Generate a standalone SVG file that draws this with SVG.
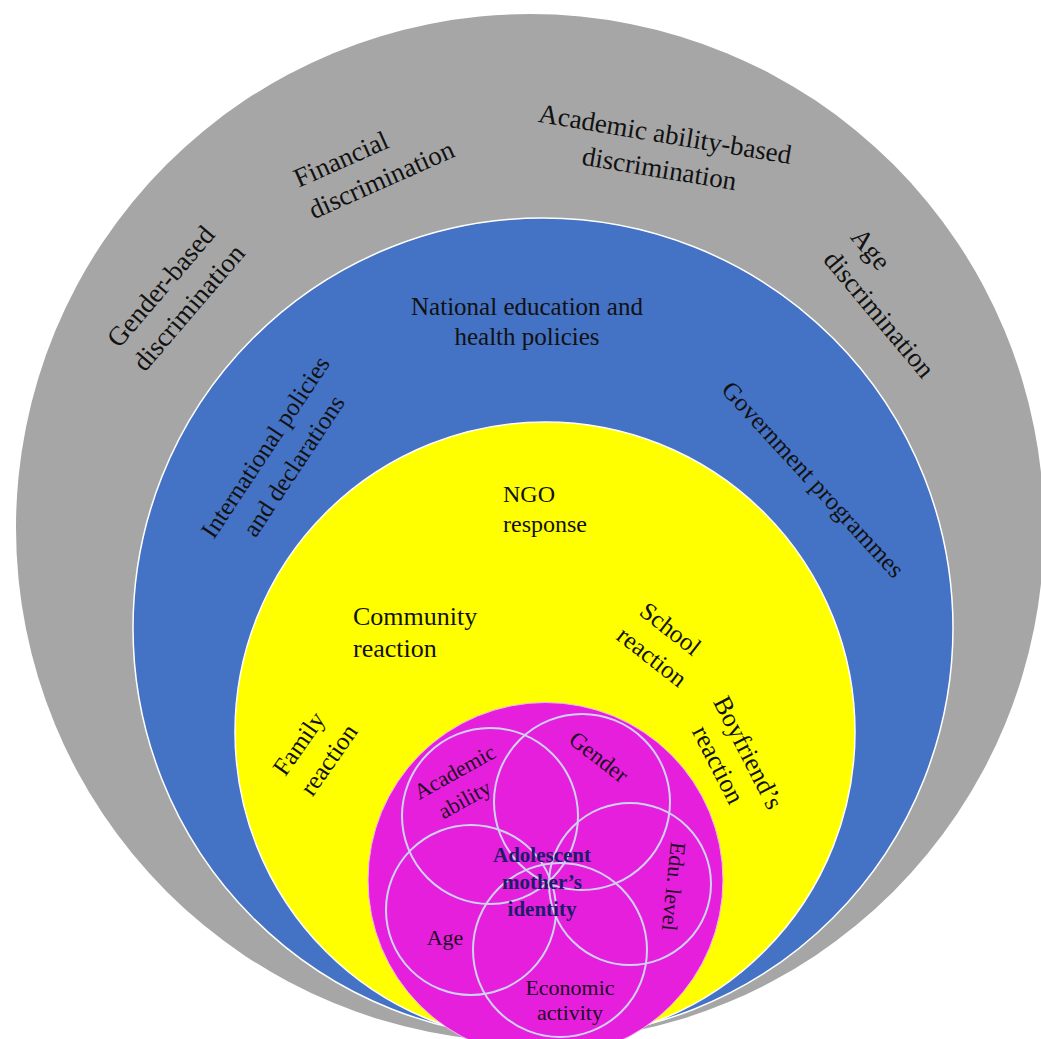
<svg xmlns="http://www.w3.org/2000/svg" width="1041" height="1039" viewBox="0 0 1041 1039">
  <style>
    .lbl { font-family: "Liberation Serif", "Times New Roman", serif; fill: #111; }
    .outer { font-size: 27px; }
    .policy { font-size: 25px; }
    .social { font-size: 25px; }
    .facet { font-size: 22px; fill: #1e0a24; }
    .core { font-size: 21px; font-weight: bold; fill: #1c1c6b; }
    .facet-ring { fill: none; stroke: #cdd2f2; stroke-width: 2; }
  </style>
  <rect width="1041" height="1039" fill="#ffffff"/>

  <!-- Outer ring: forms of discrimination -->
  <g id="discrimination-ring">
    <circle cx="530" cy="528" r="514" fill="#a6a6a6"/>
    <text class="lbl outer" text-anchor="middle" transform="translate(161.5 287) rotate(-49.5)">
      <tspan x="0" y="8">Gender-based</tspan><tspan x="2" y="43">discrimination</tspan>
    </text>
    <text class="lbl outer" text-anchor="middle" transform="translate(341.5 160) rotate(-24)">
      <tspan x="0" y="8">Financial</tspan><tspan x="28.5" y="43">discrimination</tspan>
    </text>
    <text class="lbl outer" text-anchor="middle" transform="translate(665 135) rotate(9.5)">
      <tspan x="0" y="8">Academic ability-based</tspan><tspan x="0" y="43">discrimination</tspan>
    </text>
    <text class="lbl outer" text-anchor="middle" transform="translate(870 249.5) rotate(50)">
      <tspan x="0" y="8">Age</tspan><tspan x="55.5" y="43.5">discrimination</tspan>
    </text>
  </g>

  <!-- Policy ring -->
  <g id="policy-ring">
    <circle cx="543" cy="628" r="410" fill="#4472c4" stroke="#ffffff" stroke-width="1.5"/>
    <text class="lbl policy" text-anchor="middle" x="527" y="315">National education and</text>
    <text class="lbl policy" text-anchor="middle" x="527" y="345">health policies</text>
    <text class="lbl policy" text-anchor="middle" transform="translate(266 447.5) rotate(-56.5)">
      <tspan x="0" y="7.5">International policies</tspan><tspan x="0" y="41.5">and declarations</tspan>
    </text>
    <text class="lbl policy" text-anchor="middle" transform="translate(812.5 480) rotate(47.4)">
      <tspan x="0" y="7.5">Government programmes</tspan>
    </text>
  </g>

  <!-- Social response ring -->
  <g id="response-ring">
    <circle cx="545" cy="732" r="310" fill="#ffff00" stroke="#ffffff" stroke-width="1.5"/>
    <text class="lbl social" x="503" y="502" style="font-size:24px">NGO</text>
    <text class="lbl social" x="503" y="532" style="font-size:24px">response</text>
    <text class="lbl social" x="353" y="625" style="font-size:26px">Community</text>
    <text class="lbl social" x="353" y="657" style="font-size:26px">reaction</text>
    <text class="lbl social" text-anchor="middle" transform="translate(299.5 744) rotate(-55)">
      <tspan x="0" y="7.5">Family</tspan><tspan x="4" y="41.3">reaction</tspan>
    </text>
    <text class="lbl social" text-anchor="middle" transform="translate(670 629.5) rotate(38)">
      <tspan x="0" y="7.5">School</tspan><tspan x="2.6" y="41">reaction</tspan>
    </text>
    <text class="lbl social" text-anchor="middle" style="font-size:26px" transform="translate(747.5 753) rotate(63)">
      <tspan x="0" y="7.8">Boyfriend’s</tspan><tspan x="-2.9" y="40">reaction</tspan>
    </text>
  </g>

  <!-- Core: identity facets -->
  <g id="identity-core">
    <circle cx="545.5" cy="880" r="177.5" fill="#e51fdb" stroke="#f2b8f0" stroke-width="1"/>
    <g id="facet-rings">
      <circle class="facet-ring" cx="490" cy="816" r="88"/>
      <circle class="facet-ring" cx="582" cy="802" r="88"/>
      <circle class="facet-ring" cx="630" cy="884" r="81"/>
      <circle class="facet-ring" cx="471" cy="910" r="85"/>
      <circle class="facet-ring" cx="560" cy="950" r="87"/>
    </g>
    <text class="lbl facet" text-anchor="middle" transform="translate(455 772.5) rotate(-29)">
      <tspan x="0" y="6.6">Academic</tspan><tspan x="-4.6" y="35.5">ability</tspan>
    </text>
    <text class="lbl facet" text-anchor="middle" style="font-size:23px" transform="translate(598.5 757.5) rotate(38)">
      <tspan x="0" y="7">Gender</tspan>
    </text>
    <text class="lbl facet" text-anchor="middle" transform="translate(673 886.5) rotate(96)">
      <tspan x="0" y="6.6">Edu. level</tspan>
    </text>
    <text class="lbl facet" text-anchor="middle" x="445" y="945">Age</text>
    <text class="lbl facet" text-anchor="middle" x="570" y="995">Economic</text>
    <text class="lbl facet" text-anchor="middle" x="570" y="1020">activity</text>
    <text class="lbl core" text-anchor="middle" x="542" y="862">Adolescent</text>
    <text class="lbl core" text-anchor="middle" x="542" y="889">mother’s</text>
    <text class="lbl core" text-anchor="middle" x="542" y="916">identity</text>
  </g>
</svg>
